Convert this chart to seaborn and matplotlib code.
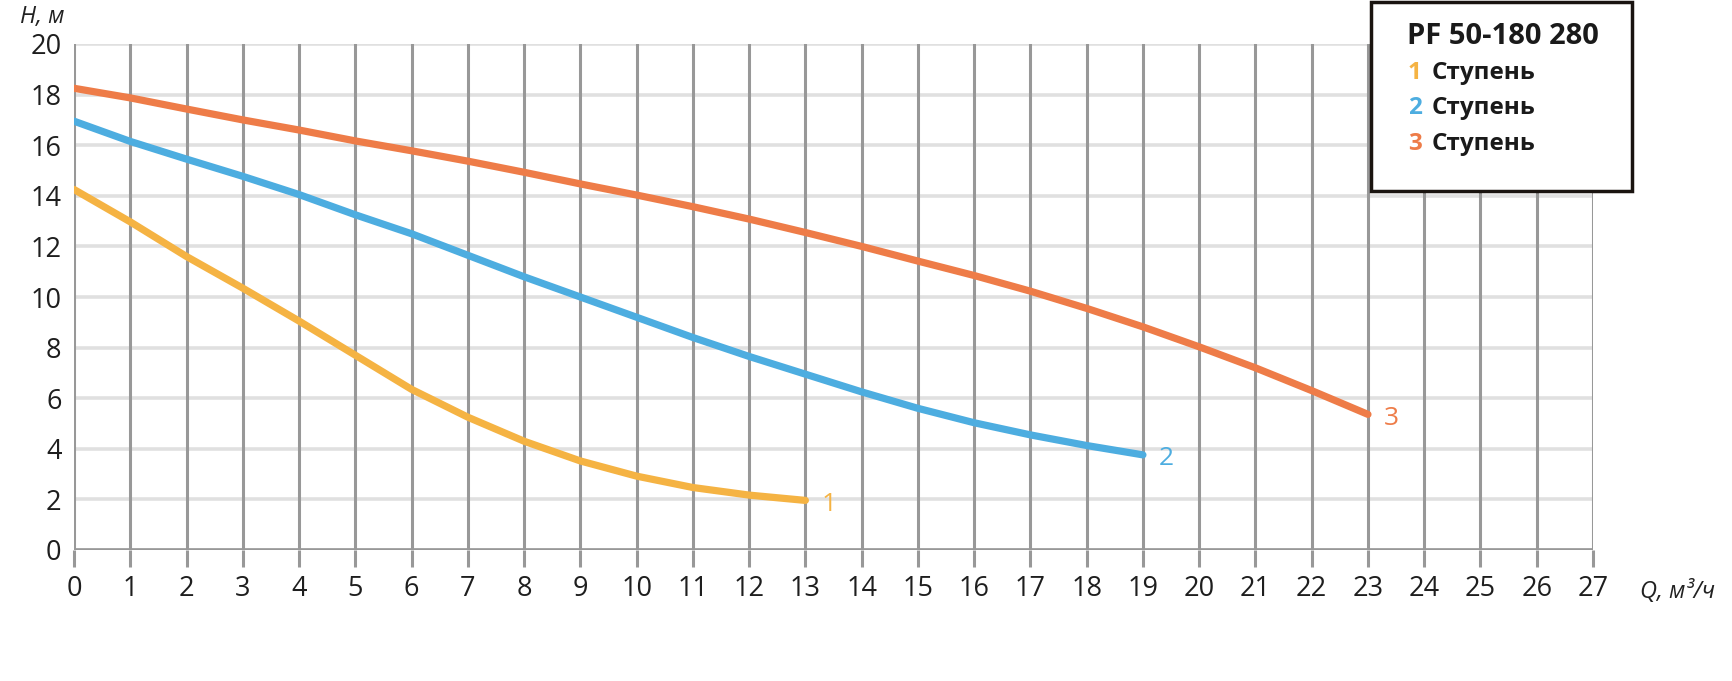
import matplotlib
matplotlib.use("Agg")
import matplotlib.pyplot as plt
import seaborn as sns
import pandas as pd
from matplotlib.patches import Rectangle

# ---- data ----
q_stage1 = [0, 1, 2, 3, 4, 5, 6, 7, 8, 9, 10, 11, 12, 13]
h_stage1 = [14.25, 12.97, 11.6, 10.35, 9.05, 7.7, 6.35, 5.25, 4.3, 3.52, 2.92, 2.47, 2.17, 1.96]

q_stage2 = [0, 1, 2, 3, 4, 5, 6, 7, 8, 9, 10, 11, 12, 13, 14, 15, 16, 17, 18, 19]
h_stage2 = [16.95, 16.15, 15.45, 14.77, 14.05, 13.25, 12.5, 11.65, 10.8, 10.0,
            9.2, 8.4, 7.65, 6.95, 6.25, 5.6, 5.03, 4.55, 4.13, 3.76]

q_stage3 = [0, 1, 2, 3, 4, 5, 6, 7, 8, 9, 10, 11, 12, 13, 14, 15, 16, 17, 18, 19, 20, 21, 22, 23]
h_stage3 = [18.25, 17.87, 17.43, 17.0, 16.6, 16.17, 15.78, 15.37, 14.93, 14.47,
            14.03, 13.57, 13.08, 12.55, 12.0, 11.42, 10.85, 10.23, 9.55, 8.82,
            8.03, 7.2, 6.3, 5.36]

stage_names = ["1", "2", "3"]
stage_colors = ["#F5B343", "#4DADE0", "#EE7C48"]
x_ticks = list(range(0, 28))
y_ticks = list(range(0, 21, 2))
title_text = "PF 50-180 280"
legend_word = "Ступень"
x_label = "Q, м³/ч"
y_label = "H, м"

frames = []
for name, qs, hs in zip(stage_names, [q_stage1, q_stage2, q_stage3],
                        [h_stage1, h_stage2, h_stage3]):
    frames.append(pd.DataFrame({"Q": qs, "H": hs, "stage": name}))
df = pd.concat(frames, ignore_index=True)

sns.set_theme(style="white")
plt.rcParams["font.family"] = ["Open Sans", "DejaVu Sans"]

W, H = 1733, 681
fig = plt.figure(figsize=(W / 100, H / 100), dpi=100)
ax = fig.add_axes([74 / W, 1 - 550 / H, (1593 - 74) / W, (550 - 44) / H])

# grid
for yv in y_ticks:
    ax.axhline(yv, color="#e0e0e0", lw=2.6, zorder=0)
ax.axhline(0, color="#989898", lw=2.6, zorder=1)
for xv in x_ticks:
    ax.axvline(xv, color="#989898", lw=2.2, zorder=1)

palette = dict(zip(stage_names, stage_colors))
sns.lineplot(data=df, x="Q", y="H", hue="stage", palette=palette, lw=5.2,
             legend=False, ax=ax, zorder=3, solid_capstyle="round",
             solid_joinstyle="round")

# end labels
for name, qs, hs, c in zip(stage_names, [q_stage1, q_stage2, q_stage3],
                           [h_stage1, h_stage2, h_stage3], stage_colors):
    ax.text(qs[-1] + 0.28, hs[-1] - 0.15, name, color=c, fontsize=19,
            ha="left", va="center")

ax.set_xlim(0, 27)
ax.set_ylim(0, 20)
ax.set_xticks(x_ticks)
ax.set_yticks(y_ticks)
ax.set_xticklabels([str(v) for v in x_ticks])
ax.set_yticklabels([str(v) for v in y_ticks])
ax.tick_params(axis="x", length=12, width=2.2, color="#989898", pad=6,
               labelsize=19.5, labelcolor="#1e1e1e", bottom=True)
ax.tick_params(axis="y", length=0, pad=9, labelsize=19.5, labelcolor="#1e1e1e")
for s in ax.spines.values():
    s.set_visible(False)
ax.set_xlabel("")
ax.set_ylabel("")

# axis labels
fig.text(1640 / W, 1 - 592 / H, x_label, fontsize=17, style="italic",
         color="#222222", ha="left", va="center")
fig.text(20 / W, 1 - 17 / H, y_label, fontsize=17, style="italic",
         color="#222222", ha="left", va="center")

# legend box
fig.patches.append(Rectangle((1371 / W, 1 - 191 / H), (1632 - 1371) / W, (191 - 2) / H,
                             transform=fig.transFigure, fill=True, facecolor="white",
                             edgecolor="#1a1410", lw=2.5, zorder=5))
fig.text(1407 / W, 1 - 36 / H, title_text, fontsize=21, fontweight="bold",
         color="#1a1a1a", ha="left", va="center", zorder=6)
for i, (name, c) in enumerate(zip(stage_names, stage_colors)):
    yy = 1 - (73 + 35.5 * i) / H
    fig.text(1408 / W, yy, name, fontsize=17.5, fontweight="bold", color=c,
             ha="left", va="center", zorder=6)
    fig.text(1432 / W, yy, legend_word, fontsize=17.5, fontweight="bold",
             color="#1a1a1a", ha="left", va="center", zorder=6)

fig.savefig("out.png", dpi=100, facecolor="white")
